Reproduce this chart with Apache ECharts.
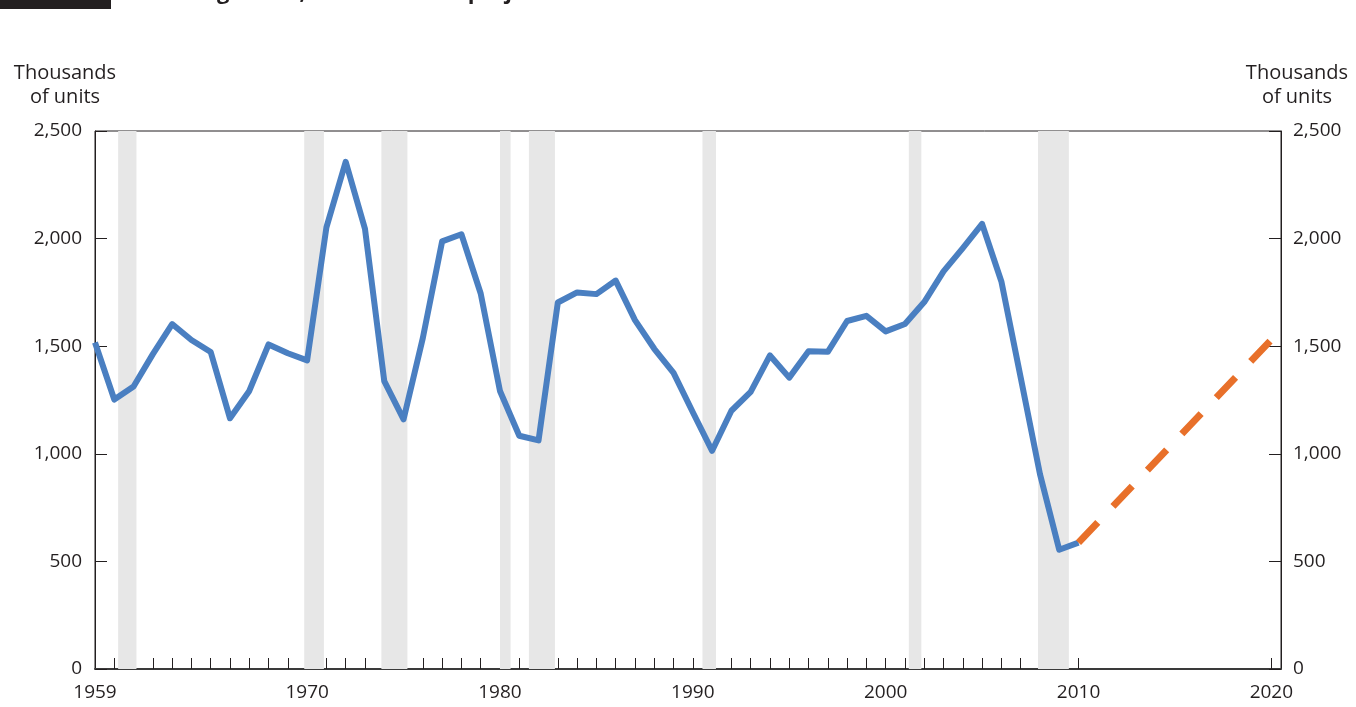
<!DOCTYPE html>
<html>
<head>
<meta charset="utf-8">
<title>Housing starts, historical and projected</title>
<script src="https://cdn.jsdelivr.net/npm/echarts@6/dist/echarts.min.js"></script>
<style>
  html, body { margin: 0; padding: 0; background: #fff; }
  #chart { width: 1356px; height: 707px; }
</style>
</head>
<body>
<div id="chart"></div>
<script>
// annual housing starts, thousands of units
const years = [1959, 1960, 1961, 1962, 1963, 1964, 1965, 1966, 1967, 1968, 1969,
  1970, 1971, 1972, 1973, 1974, 1975, 1976, 1977, 1978, 1979,
  1980, 1981, 1982, 1983, 1984, 1985, 1986, 1987, 1988, 1989,
  1990, 1991, 1992, 1993, 1994, 1995, 1996, 1997, 1998, 1999,
  2000, 2001, 2002, 2003, 2004, 2005, 2006, 2007, 2008, 2009, 2010]
const starts = [1517, 1252, 1313, 1463, 1603, 1529, 1473, 1165, 1292, 1508, 1467,
  1434, 2052, 2357, 2045, 1338, 1160, 1538, 1987, 2020, 1745,
  1292, 1084, 1062, 1703, 1750, 1742, 1805, 1621, 1488, 1376,
  1193, 1014, 1200, 1288, 1457, 1354, 1477, 1474, 1617, 1641,
  1569, 1603, 1705, 1848, 1956, 2068, 1801, 1355, 906, 554, 587]

// projection
const projYears = [2010, 2020]
const projValues = [587, 1530]

// recession periods (shaded)
const recessionStart = [1960.2, 1969.85, 1973.85, 1980.0, 1981.5, 1990.5, 2001.2, 2007.9]
const recessionEnd = [1961.15, 1970.87, 1975.2, 1980.55, 1982.85, 1991.2, 2001.85, 2009.5]

const xLabelYears = [1959, 1970, 1980, 1990, 2000, 2010, 2020]
const xTickYears = []
for (let y = 1960; y <= 2010; y++) xTickYears.push(y)
xTickYears.push(2020)

const yTicks = [0, 500, 1000, 1500, 2000, 2500]

const txt = '#231f20'
const font = 'Open Sans'

const histData = years.map((y, i) => [y, starts[i]])
const projData = projYears.map((y, i) => [y, projValues[i]])
const recessions = recessionStart.map((s, i) => [{ xAxis: s }, { xAxis: recessionEnd[i] }])

const fmt = v => v.toLocaleString('en-US')

const yAxisBase = {
  type: 'value',
  min: yTicks[0],
  max: yTicks[yTicks.length - 1],
  interval: 500,
  name: 'Thousands\nof units',
  nameLocation: 'end',
  nameGap: 22,
  axisLine: { show: true, lineStyle: { color: txt, width: 1 } },
  axisTick: { show: true, inside: true, length: 12, lineStyle: { color: txt } },
  splitLine: { show: false },
  axisLabel: { color: txt, fontSize: 19, fontFamily: font, formatter: fmt }
}

const chart = echarts.init(document.getElementById('chart'))
chart.setOption({
  animation: false,
  backgroundColor: '#fff',
  grid: {
    left: 95, right: 75, top: 131, bottom: 38,
    show: true, borderColor: txt, borderWidth: 1, backgroundColor: 'transparent'
  },
  graphic: [
    { type: 'rect', left: 0, top: 0, shape: { width: 111, height: 9 }, style: { fill: '#231f20' } },
    {
      type: 'text', left: 140, top: -18,
      style: { text: 'Housing starts, historical and projected', fontSize: 22, fontWeight: 'bold', fontFamily: font, fill: txt }
    }
  ],
  xAxis: {
    type: 'value',
    min: 1959,
    max: 2020.5,
    axisLine: { show: true, lineStyle: { color: '#3a3a3a', width: 2 } },
    axisTick: { show: true, inside: true, length: 11, customValues: xTickYears, lineStyle: { color: txt } },
    splitLine: { show: false },
    axisLabel: { color: txt, fontSize: 19, fontFamily: font, margin: 14, customValues: xLabelYears, formatter: v => String(v) }
  },
  yAxis: [
    Object.assign({}, yAxisBase, {
      position: 'left',
      axisLabel: Object.assign({}, yAxisBase.axisLabel, { margin: 13 }),
      nameTextStyle: { color: txt, fontSize: 20, fontFamily: font, align: 'center', lineHeight: 24, padding: [0, 60, 0, 0] }
    }),
    Object.assign({}, yAxisBase, {
      position: 'right',
      axisLabel: Object.assign({}, yAxisBase.axisLabel, { margin: 12 }),
      nameTextStyle: { color: txt, fontSize: 20, fontFamily: font, align: 'center', lineHeight: 24, padding: [0, 0, 0, 32] }
    })
  ],
  series: [
    {
      name: 'Historical',
      type: 'line',
      data: histData,
      showSymbol: false,
      z: 3,
      lineStyle: { color: '#4a7fc1', width: 6, join: 'round' },
      markArea: {
        silent: true,
        itemStyle: { color: '#e7e7e7' },
        data: recessions
      }
    },
    {
      name: 'Projected',
      type: 'line',
      data: projData,
      showSymbol: false,
      z: 4,
      lineStyle: { color: '#e8702a', width: 7, type: [28, 22], cap: 'butt' }
    }
  ]
})
</script>
</body>
</html>
